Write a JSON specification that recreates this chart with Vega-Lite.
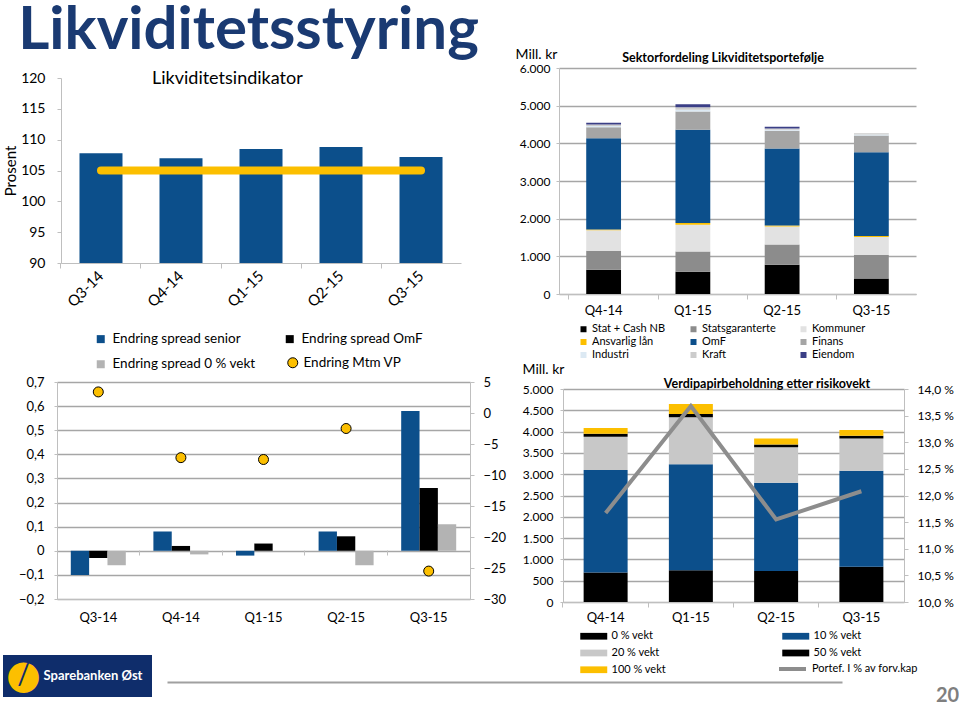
{
  "$schema": "https://vega.github.io/schema/vega-lite/v6.json",
  "background": "white",
  "padding": 0,
  "autosize": {"type": "pad"},
  "config": {
    "font": "Lato",
    "view": {"stroke": null},
    "axis": {"labelColor": "#000000", "titleColor": "#000000", "domainColor": "#bfbfbf", "tickColor": "#bfbfbf", "gridColor": "#a6a6a6", "labelOverlap": false, "labelFlush": false},
    "legend": {"labelColor": "#000000", "padding": 0, "titlePadding": 0},
    "title": {"color": "#000000"}
  },
  "datasets": {
    "indikator": [
      {"kvartal": "Q3-14", "indikator": 107.8, "krav": 105},
      {"kvartal": "Q4-14", "indikator": 107.0, "krav": 105},
      {"kvartal": "Q1-15", "indikator": 108.5, "krav": 105},
      {"kvartal": "Q2-15", "indikator": 108.8, "krav": 105},
      {"kvartal": "Q3-15", "indikator": 107.2, "krav": 105}
    ],
    "sektor": [
      {"kvartal": "Q4-14", "sektor": "Stat + Cash NB", "rekke": 1, "mill": 645},
      {"kvartal": "Q4-14", "sektor": "Statsgaranterte", "rekke": 2, "mill": 505},
      {"kvartal": "Q4-14", "sektor": "Kommuner", "rekke": 3, "mill": 540},
      {"kvartal": "Q4-14", "sektor": "Ansvarlig lån", "rekke": 4, "mill": 20},
      {"kvartal": "Q4-14", "sektor": "OmF", "rekke": 5, "mill": 2428},
      {"kvartal": "Q4-14", "sektor": "Finans", "rekke": 6, "mill": 292},
      {"kvartal": "Q4-14", "sektor": "Industri", "rekke": 7, "mill": 30},
      {"kvartal": "Q4-14", "sektor": "Kraft", "rekke": 8, "mill": 40},
      {"kvartal": "Q4-14", "sektor": "Eiendom", "rekke": 9, "mill": 45},
      {"kvartal": "Q1-15", "sektor": "Stat + Cash NB", "rekke": 1, "mill": 592},
      {"kvartal": "Q1-15", "sektor": "Statsgaranterte", "rekke": 2, "mill": 538},
      {"kvartal": "Q1-15", "sektor": "Kommuner", "rekke": 3, "mill": 708},
      {"kvartal": "Q1-15", "sektor": "Ansvarlig lån", "rekke": 4, "mill": 45},
      {"kvartal": "Q1-15", "sektor": "OmF", "rekke": 5, "mill": 2475},
      {"kvartal": "Q1-15", "sektor": "Finans", "rekke": 6, "mill": 486},
      {"kvartal": "Q1-15", "sektor": "Industri", "rekke": 7, "mill": 50},
      {"kvartal": "Q1-15", "sektor": "Kraft", "rekke": 8, "mill": 66},
      {"kvartal": "Q1-15", "sektor": "Eiendom", "rekke": 9, "mill": 80},
      {"kvartal": "Q2-15", "sektor": "Stat + Cash NB", "rekke": 1, "mill": 777},
      {"kvartal": "Q2-15", "sektor": "Statsgaranterte", "rekke": 2, "mill": 539},
      {"kvartal": "Q2-15", "sektor": "Kommuner", "rekke": 3, "mill": 478},
      {"kvartal": "Q2-15", "sektor": "Ansvarlig lån", "rekke": 4, "mill": 26},
      {"kvartal": "Q2-15", "sektor": "OmF", "rekke": 5, "mill": 2043},
      {"kvartal": "Q2-15", "sektor": "Finans", "rekke": 6, "mill": 469},
      {"kvartal": "Q2-15", "sektor": "Industri", "rekke": 7, "mill": 30},
      {"kvartal": "Q2-15", "sektor": "Kraft", "rekke": 8, "mill": 31},
      {"kvartal": "Q2-15", "sektor": "Eiendom", "rekke": 9, "mill": 45},
      {"kvartal": "Q3-15", "sektor": "Stat + Cash NB", "rekke": 1, "mill": 414},
      {"kvartal": "Q3-15", "sektor": "Statsgaranterte", "rekke": 2, "mill": 620},
      {"kvartal": "Q3-15", "sektor": "Kommuner", "rekke": 3, "mill": 478},
      {"kvartal": "Q3-15", "sektor": "Ansvarlig lån", "rekke": 4, "mill": 26},
      {"kvartal": "Q3-15", "sektor": "OmF", "rekke": 5, "mill": 2228},
      {"kvartal": "Q3-15", "sektor": "Finans", "rekke": 6, "mill": 441},
      {"kvartal": "Q3-15", "sektor": "Industri", "rekke": 7, "mill": 30},
      {"kvartal": "Q3-15", "sektor": "Kraft", "rekke": 8, "mill": 33},
      {"kvartal": "Q3-15", "sektor": "Eiendom", "rekke": 9, "mill": 0}
    ],
    "spread": [
      {"kvartal": "Q3-14", "serie": "Endring spread senior", "endring": -0.10},
      {"kvartal": "Q3-14", "serie": "Endring spread OmF", "endring": -0.03},
      {"kvartal": "Q3-14", "serie": "Endring spread 0 % vekt", "endring": -0.06},
      {"kvartal": "Q4-14", "serie": "Endring spread senior", "endring": 0.08},
      {"kvartal": "Q4-14", "serie": "Endring spread OmF", "endring": 0.02},
      {"kvartal": "Q4-14", "serie": "Endring spread 0 % vekt", "endring": -0.015},
      {"kvartal": "Q1-15", "serie": "Endring spread senior", "endring": -0.02},
      {"kvartal": "Q1-15", "serie": "Endring spread OmF", "endring": 0.03},
      {"kvartal": "Q1-15", "serie": "Endring spread 0 % vekt", "endring": 0},
      {"kvartal": "Q2-15", "serie": "Endring spread senior", "endring": 0.08},
      {"kvartal": "Q2-15", "serie": "Endring spread OmF", "endring": 0.06},
      {"kvartal": "Q2-15", "serie": "Endring spread 0 % vekt", "endring": -0.06},
      {"kvartal": "Q3-15", "serie": "Endring spread senior", "endring": 0.58},
      {"kvartal": "Q3-15", "serie": "Endring spread OmF", "endring": 0.26},
      {"kvartal": "Q3-15", "serie": "Endring spread 0 % vekt", "endring": 0.11}
    ],
    "mtm": [
      {"kvartal": "Q3-14", "mtm": 3.4},
      {"kvartal": "Q4-14", "mtm": -7.2},
      {"kvartal": "Q1-15", "mtm": -7.5},
      {"kvartal": "Q2-15", "mtm": -2.5},
      {"kvartal": "Q3-15", "mtm": -25.5}
    ],
    "risiko": [
      {"kvartal": "Q4-14", "vekt": "0 % vekt", "rekke": 1, "mill": 690},
      {"kvartal": "Q4-14", "vekt": "10 % vekt", "rekke": 2, "mill": 2410},
      {"kvartal": "Q4-14", "vekt": "20 % vekt", "rekke": 3, "mill": 780},
      {"kvartal": "Q4-14", "vekt": "50 % vekt", "rekke": 4, "mill": 70},
      {"kvartal": "Q4-14", "vekt": "100 % vekt", "rekke": 5, "mill": 135},
      {"kvartal": "Q1-15", "vekt": "0 % vekt", "rekke": 1, "mill": 745},
      {"kvartal": "Q1-15", "vekt": "10 % vekt", "rekke": 2, "mill": 2487},
      {"kvartal": "Q1-15", "vekt": "20 % vekt", "rekke": 3, "mill": 1103},
      {"kvartal": "Q1-15", "vekt": "50 % vekt", "rekke": 4, "mill": 78},
      {"kvartal": "Q1-15", "vekt": "100 % vekt", "rekke": 5, "mill": 235},
      {"kvartal": "Q2-15", "vekt": "0 % vekt", "rekke": 1, "mill": 730},
      {"kvartal": "Q2-15", "vekt": "10 % vekt", "rekke": 2, "mill": 2070},
      {"kvartal": "Q2-15", "vekt": "20 % vekt", "rekke": 3, "mill": 830},
      {"kvartal": "Q2-15", "vekt": "50 % vekt", "rekke": 4, "mill": 70},
      {"kvartal": "Q2-15", "vekt": "100 % vekt", "rekke": 5, "mill": 140},
      {"kvartal": "Q3-15", "vekt": "0 % vekt", "rekke": 1, "mill": 830},
      {"kvartal": "Q3-15", "vekt": "10 % vekt", "rekke": 2, "mill": 2250},
      {"kvartal": "Q3-15", "vekt": "20 % vekt", "rekke": 3, "mill": 760},
      {"kvartal": "Q3-15", "vekt": "50 % vekt", "rekke": 4, "mill": 62},
      {"kvartal": "Q3-15", "vekt": "100 % vekt", "rekke": 5, "mill": 134}
    ],
    "portef": [
      {"kvartal": "Q4-14", "andel": 11.67},
      {"kvartal": "Q1-15", "andel": 13.68},
      {"kvartal": "Q2-15", "andel": 11.55},
      {"kvartal": "Q3-15", "andel": 12.08}
    ],
    "tekster": [
      {"overskrift": "Likviditetsstyring", "logo": "Sparebanken Øst", "side": "20"}
    ]
  },
  "columns": 3,
  "align": "each",
  "bounds": "flush",
  "spacing": 0,
  "resolve": {
    "scale": {"color": "independent", "fill": "independent", "stroke": "independent"},
    "legend": {"color": "independent", "fill": "independent", "stroke": "independent"}
  },
  "concat": [
    {"width": 3, "height": 68, "view": {"fill": "white"}, "data": {"values": []}, "mark": "point"},
    {"width": 491, "height": 68, "data": {"name": "tekster"},
     "mark": {"type": "text", "fontSize": 60, "fontWeight": "bold", "color": "#1a3a72", "baseline": "alphabetic", "align": "center", "dy": 15},
     "encoding": {"text": {"field": "overskrift"}}},
    {"width": 1, "height": 1, "data": {"values": []}, "mark": "point"},

    {"width": 1, "height": 1, "data": {"values": []}, "mark": "point"},
    {"width": 458, "height": 195, "data": {"name": "indikator"},
     "title": {"text": "Likviditetsindikator", "fontSize": 18, "fontWeight": "normal", "anchor": "start", "frame": "group", "dx": 149, "offset": -29, "baseline": "middle"},
     "layer": [
       {"mark": {"type": "bar", "color": "#0c4f8b"},
        "encoding": {
          "x": {"field": "kvartal", "type": "nominal", "sort": null, "scale": {"range": [58, 458], "paddingInner": 0.4625, "paddingOuter": 0.231},
            "axis": {"title": null, "labelAngle": -45, "labelAlign": "right", "labelBaseline": "middle", "labelFontSize": 15, "labelPadding": 10, "ticks": false, "tickSize": 0}},
          "y": {"field": "indikator", "type": "quantitative", "scale": {"domain": [90, 120], "range": [195, 10], "nice": false, "zero": false},
          "axis": {"offset": -58, "values": [90, 95, 100, 105, 110, 115, 120], "grid": false, "labelOverlap": false, "labelFontSize": 14, "tickSize": 4, "labelPadding": 12,
            "title": "Prosent", "titleFontSize": 15, "titleFontWeight": "normal", "titleAngle": -90, "titleX": -51, "titleY": 102.5, "titleAlign": "center", "titleBaseline": "middle"}},
          "y2": {"datum": 90}}},
       {"mark": {"type": "line", "color": "#fcbf00", "strokeWidth": 8, "strokeCap": "round"},
        "encoding": {
          "x": {"field": "kvartal", "type": "nominal", "sort": null, "axis": null},
          "y": {"field": "krav", "type": "quantitative",
          "axis": {"offset": -58, "values": [90, 95, 100, 105, 110, 115, 120], "grid": false, "labelOverlap": false, "labelFontSize": 14, "tickSize": 4, "labelPadding": 12,
            "title": "Prosent", "titleFontSize": 15, "titleFontWeight": "normal", "titleAngle": -90, "titleX": -51, "titleY": 102.5, "titleAlign": "center", "titleBaseline": "middle"}}}},
       {"mark": {"type": "point", "opacity": 0},
        "encoding": {
          "x": {"field": "kvartal", "type": "nominal", "sort": null,
            "axis": {"orient": "bottom", "title": null, "labels": false, "domain": false, "ticks": true, "tickSize": 5, "tickColor": "#bfbfbf", "bandPosition": -0.43, "grid": false}}}}
     ],
     "resolve": {"axis": {"x": "independent"}}},
    {"width": 357, "height": 226, "data": {"name": "sektor"},
     "title": {"text": "Sektorfordeling Likviditetsportefølje", "fontSize": 12.5, "fontWeight": "bold", "anchor": "middle", "frame": "group", "dx": -14.5, "offset": -23, "baseline": "middle"},
     "layer": [
       {"mark": {"type": "bar"},
        "encoding": {
          "x": {"field": "kvartal", "type": "nominal", "sort": null, "scale": {"paddingInner": 0.61, "paddingOuter": 0.305},
            "axis": {"title": null, "labelAngle": 0, "labelFontSize": 13, "labelPadding": 10, "ticks": false, "tickSize": 0}},
          "y": {"field": "mill", "type": "quantitative", "stack": "zero", "scale": {"domain": [0, 6000], "nice": false},
            "axis": {"values": [0, 1000, 2000, 3000, 4000, 5000, 6000], "labelExpr": "replace(format(datum.value, ','), ',', '.')", "grid": true, "gridWidth": 1.5, "labelFontSize": 12, "tickSize": 3, "labelPadding": 6,
              "title": "Mill. kr", "titleAngle": 0, "titleAlign": "left", "titleBaseline": "top", "titleX": -44, "titleY": -21, "titleFontSize": 14, "titleFontWeight": "normal"}},
          "color": {"field": "sektor", "type": "nominal",
            "scale": {"domain": ["Stat + Cash NB", "Statsgaranterte", "Kommuner", "Ansvarlig lån", "OmF", "Finans", "Industri", "Kraft", "Eiendom"],
                      "range": ["#000000", "#8c8c8c", "#e2e2e2", "#fcbf00", "#0c4f8b", "#a5a5a5", "#dce9f3", "#cccccc", "#3b3f86"]},
            "legend": {"orient": "none", "direction": "horizontal", "legendX": 19, "legendY": 255.5, "columns": 3, "title": null, "symbolType": "square", "symbolSize": 36, "symbolStrokeWidth": 0, "labelFontSize": 11, "labelOffset": 3, "columnPadding": 22, "rowPadding": 1}},
          "order": {"field": "rekke", "sort": "ascending"}
        }},
       {"mark": {"type": "point", "opacity": 0},
        "encoding": {
          "x": {"field": "kvartal", "type": "nominal", "sort": null,
            "axis": {"orient": "bottom", "title": null, "labels": false, "domain": false, "ticks": true, "tickSize": 5, "tickColor": "#bfbfbf", "bandPosition": -0.5, "grid": false}}}}
     ],
     "resolve": {"axis": {"x": "independent"}}},

    {"width": 1, "height": 88, "data": {"values": []}, "mark": "point"},
    {"width": 556, "height": 1, "data": {"values": []}, "mark": "point"},
    {"width": 1, "height": 1, "data": {"values": []}, "mark": "point"},

    {"width": 1, "height": 1, "data": {"values": []}, "mark": "point"},
    {"width": 467, "height": 217,
     "layer": [
       {"data": {"name": "spread"},
        "mark": {"type": "bar"},
        "encoding": {
          "x": {"field": "kvartal", "type": "nominal", "sort": null, "scale": {"range": [54, 467], "paddingInner": 0.334, "paddingOuter": 0.167},
            "axis": {"title": null, "labelAngle": 0, "labelFontSize": 13, "labelPadding": 12, "ticks": false, "tickSize": 0}},
          "xOffset": {"field": "serie", "type": "nominal", "sort": ["Endring spread senior", "Endring spread OmF", "Endring spread 0 % vekt"], "scale": {"paddingInner": 0, "paddingOuter": 0}},
          "y": {"field": "endring", "type": "quantitative", "scale": {"domain": [-0.2, 0.7], "nice": false, "zero": false},
            "axis": {"offset": -54, "values": [-0.2, -0.1, 0, 0.1, 0.2, 0.3, 0.4, 0.5, 0.6, 0.7], "labelExpr": "datum.value == 0 ? '0' : replace(format(datum.value, '.1f'), '.', ',')", "grid": true, "gridWidth": 1.5, "labelFontSize": 13, "tickSize": 3, "labelPadding": 10, "title": null}},
          "color": {"field": "serie", "type": "nominal",
            "scale": {"domain": ["Endring spread senior", "Endring spread OmF", "Endring spread 0 % vekt"], "range": ["#0c4f8b", "#000000", "#b3b3b3"]},
            "legend": {"orient": "none", "direction": "horizontal", "legendX": 91, "legendY": -50, "columns": 2, "title": null, "symbolType": "square", "symbolSize": 64, "symbolStrokeWidth": 0, "labelFontSize": 13.5, "labelOffset": 5, "columnPadding": 27, "rowPadding": 10.5}}
        }},
       {"data": {"name": "mtm"},
        "mark": {"type": "point", "shape": "circle", "filled": true, "size": 100, "stroke": "#000000", "strokeWidth": 1, "opacity": 1},
        "encoding": {
          "x": {"field": "kvartal", "type": "nominal", "sort": null,
            "axis": {"orient": "bottom", "offset": -49, "title": null, "labels": false, "domain": false, "ticks": true, "tickSize": 5, "tickColor": "#bfbfbf", "bandPosition": -0.25, "grid": false}},
          "y": {"field": "mtm", "type": "quantitative", "scale": {"domain": [-30, 5], "nice": false, "zero": false},
            "axis": {"orient": "right", "values": [-30, -25, -20, -15, -10, -5, 0, 5], "grid": false, "labelFontSize": 13, "tickSize": 4, "labelPadding": 9, "title": null}},
          "fill": {"datum": "Endring Mtm VP", "scale": {"range": ["#fcbf00"]},
            "legend": {"orient": "none", "legendX": 283, "legendY": -26, "title": null, "symbolType": "circle", "symbolSize": 100, "symbolStrokeColor": "#000000", "symbolStrokeWidth": 1, "labelFontSize": 13.5, "labelOffset": 4}}
        }}
     ],
     "resolve": {"scale": {"y": "independent"}, "axis": {"x": "independent"}}},
    {"width": 345, "height": 220,
     "title": {"text": "Verdipapirbeholdning etter risikovekt", "fontSize": 12.5, "fontWeight": "bold", "anchor": "middle", "frame": "group", "dx": 35.5, "offset": -34, "baseline": "middle"},
     "layer": [
       {"data": {"name": "risiko"},
        "mark": {"type": "bar"},
        "encoding": {
          "x": {"field": "kvartal", "type": "nominal", "sort": null, "scale": {"range": [4, 345], "paddingInner": 0.484, "paddingOuter": 0.242},
            "axis": {"title": null, "labelAngle": 0, "labelFontSize": 13, "labelPadding": 9.5, "ticks": false, "tickSize": 0}},
          "y": {"field": "mill", "type": "quantitative", "stack": "zero", "scale": {"domain": [0, 5000], "range": [220, 7], "nice": false},
            "axis": {"offset": -4, "values": [0, 500, 1000, 1500, 2000, 2500, 3000, 3500, 4000, 4500, 5000], "labelExpr": "replace(format(datum.value, ','), ',', '.')", "grid": true, "gridWidth": 1.5, "labelFontSize": 12, "tickSize": 3, "labelPadding": 7,
              "title": "Mill. kr", "titleAngle": 0, "titleAlign": "left", "titleBaseline": "top", "titleX": -41, "titleY": -20, "titleFontSize": 14, "titleFontWeight": "normal"}},
          "color": {"field": "vekt", "type": "nominal",
            "scale": {"domain": ["0 % vekt", "10 % vekt", "20 % vekt", "50 % vekt", "100 % vekt"], "range": ["#000000", "#0c4f8b", "#c8c8c8", "#000000", "#fcbf00"]},
            "legend": {"orient": "none", "direction": "horizontal", "legendX": 27.75, "legendY": 247.25, "columns": 2, "title": null, "symbolType": "M-2,-0.5H2V0.5H-2Z", "symbolSize": 182, "symbolStrokeWidth": 0, "labelFontSize": 11, "labelOffset": 10.75, "columnPadding": 115, "rowPadding": 4.75}},
          "order": {"field": "rekke", "sort": "ascending"}
        }},
       {"data": {"name": "portef"},
        "mark": {"type": "line", "strokeWidth": 4},
        "encoding": {
          "x": {"field": "kvartal", "type": "nominal", "sort": null,
            "axis": {"orient": "bottom", "title": null, "labels": false, "domain": false, "ticks": true, "tickSize": 5, "tickColor": "#bfbfbf", "bandPosition": -0.47, "grid": false}},
          "y": {"field": "andel", "type": "quantitative", "scale": {"domain": [10, 14], "range": [220, 7], "nice": false, "zero": false},
            "axis": {"orient": "right", "values": [10, 10.5, 11, 11.5, 12, 12.5, 13, 13.5, 14], "labelExpr": "replace(format(datum.value, '.1f'), '.', ',') + ' %'", "grid": false, "labelFontSize": 12, "tickSize": 4, "labelPadding": 9, "title": null}},
          "stroke": {"datum": "Portef. I % av forv.kap", "scale": {"range": ["#8d8d8d"]},
            "legend": {"orient": "none", "legendX": 218, "legendY": 271.5, "title": null, "symbolType": "stroke", "symbolSize": 729, "symbolStrokeWidth": 4, "labelFontSize": 11, "labelOffset": 4}}
        }}
     ],
     "resolve": {"scale": {"y": "independent"}, "axis": {"x": "independent"}}},

    {"width": 1, "height": 53, "data": {"values": []}, "mark": "point"},
    {"width": 1, "height": 1, "data": {"values": []}, "mark": "point"},
    {"width": 1, "height": 1, "data": {"values": []}, "mark": "point"},

    {"width": 1, "height": 1, "data": {"values": []}, "mark": "point"},
    {"width": 149, "height": 42, "view": {"fill": "#0f2d6b"}, "data": {"name": "tekster"},
     "layer": [
       {"mark": {"type": "text", "text": "●", "font": "DejaVu Sans", "fontSize": 40, "color": "#fcbf00", "dx": -54, "baseline": "middle", "align": "center"}, "encoding": {}},
       {"mark": {"type": "text", "text": "/", "fontSize": 28, "color": "#0f2d6b", "dx": -54, "baseline": "middle", "align": "center"}, "encoding": {}},
       {"mark": {"type": "text", "color": "white", "fontSize": 13, "fontWeight": "bold", "dx": 15.5, "baseline": "middle", "align": "center"}, "encoding": {"text": {"field": "logo"}}},
       {"mark": {"type": "point", "opacity": 0},
        "encoding": {"x": {"field": "side", "type": "nominal", "scale": {"range": [164, 839]},
          "axis": {"title": "20", "labels": false, "ticks": false, "domainColor": "#a0a0a0", "domainWidth": 2, "offset": -15, "titleX": 944, "titleY": 13, "titleAlign": "center", "titleBaseline": "middle", "titleFontSize": 20, "titleFontWeight": "bold", "titleColor": "#7f7f7f", "titleAngle": 0}}}}
     ]},
    {"width": 1, "height": 1, "data": {"values": []}, "mark": "point"}
  ]
}
